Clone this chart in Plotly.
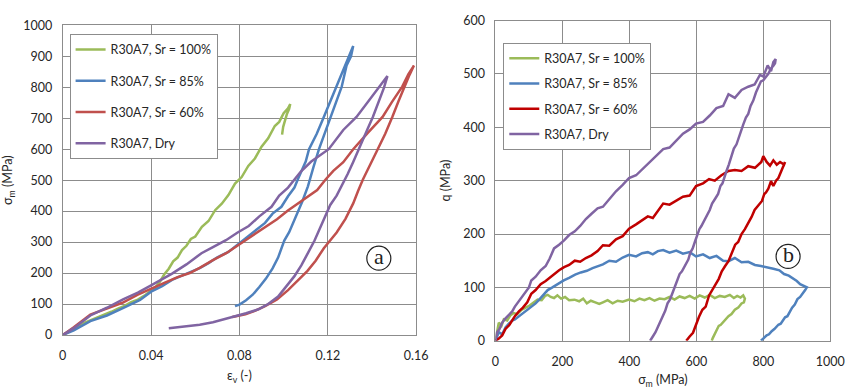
import plotly.graph_objects as go

# ---------------- Panel (a): eps_v vs sigma_m ----------------
names = ["R30A7, Sr = 100%", "R30A7, Sr = 85%", "R30A7, Sr = 60%", "R30A7, Dry"]
colors_a = ["#9BBB59", "#4F81BD", "#C0504D", "#8064A2"]
colors_b = ["#9BBB59", "#4F81BD", "#C00000", "#8064A2"]

a_green_x = [0, 0.002, 0.004, 0.006, 0.008, 0.010, 0.013, 0.016, 0.019, 0.022, 0.025, 0.028, 0.031, 0.034,
             0.037, 0.040, 0.042, 0.044, 0.046, 0.048, 0.050, 0.052, 0.054, 0.056, 0.058, 0.060, 0.063, 0.066,
             0.069, 0.072, 0.075, 0.078, 0.081, 0.084, 0.087, 0.090, 0.093, 0.096, 0.098, 0.100, 0.102, 0.103,
             0.1025, 0.1015, 0.1008, 0.0998, 0.0993]
a_green_y = [0, 8, 17, 24, 33, 40, 49, 57, 67, 75, 85, 94, 106, 114, 127, 142, 155, 172, 196, 214, 238, 250,
             274, 288, 310, 318, 349, 368, 403, 424, 452, 489, 510, 546, 570, 608, 635, 675, 688, 716, 732, 746,
             730, 714, 695, 672, 647]

a_blue_x = [0, 0.005, 0.0125, 0.02, 0.027, 0.035, 0.040, 0.045, 0.050, 0.055, 0.062, 0.066, 0.070, 0.075,
            0.0798, 0.085, 0.0916, 0.095, 0.099, 0.102, 0.1049, 0.1064, 0.108, 0.110, 0.1115, 0.115, 0.1182,
            0.121, 0.1241, 0.126, 0.128, 0.1300, 0.1315,
            0.1305, 0.1285, 0.1263, 0.1237, 0.1211, 0.1185, 0.116, 0.1135, 0.111, 0.1085, 0.1055, 0.1025,
            0.1003, 0.0975, 0.095, 0.092, 0.089, 0.086, 0.083, 0.080, 0.078]
a_blue_y = [0, 15, 45, 63, 86, 113, 140, 158, 180, 194, 216, 232, 251, 268, 295, 326, 362, 392, 414, 448, 476,
            502, 528, 560, 600, 650, 704, 752, 802, 835, 870, 905, 933,
            900, 870, 802, 752, 704, 648, 600, 542, 480, 432, 380, 332, 305, 250, 215, 182, 155, 130, 112, 98, 93]

a_red_x = [0, 0.005, 0.0125, 0.02, 0.027, 0.034, 0.040, 0.046, 0.052, 0.0575, 0.062, 0.068, 0.074, 0.0798,
           0.086, 0.0916, 0.097, 0.1018, 0.1064, 0.111, 0.1152, 0.119, 0.1225, 0.127, 0.1315, 0.138, 0.1448,
           0.149, 0.1537, 0.1565, 0.159,
           0.157, 0.155, 0.152, 0.1492, 0.146, 0.1426, 0.139, 0.1359, 0.1337, 0.1315, 0.128, 0.124, 0.1182,
           0.1145, 0.1108, 0.106, 0.102, 0.097, 0.0916, 0.087, 0.0827, 0.0768]
a_red_y = [0, 25, 66, 86, 104, 130, 150, 168, 187, 200, 217, 242, 264, 292, 320, 348, 374, 401, 425, 446, 468,
           502, 530, 558, 600, 652, 704, 752, 802, 842, 870,
           840, 807, 755, 704, 650, 600, 548, 502, 465, 425, 375, 331, 280, 240, 207, 172, 145, 115, 93, 78, 67, 58]

a_purple_x = [0, 0.005, 0.0125, 0.02, 0.0273, 0.034, 0.0402, 0.045, 0.0495, 0.056, 0.0628, 0.068, 0.0739,
              0.079, 0.0842, 0.089, 0.0945, 0.098, 0.102, 0.1078, 0.1125, 0.1204, 0.127, 0.133, 0.1375,
              0.1418, 0.147,
              0.1454, 0.1425, 0.1404, 0.138, 0.136, 0.1337, 0.1315, 0.129, 0.1265, 0.124, 0.1211, 0.119,
              0.1167, 0.114, 0.1108, 0.108, 0.1049, 0.101, 0.0975, 0.093, 0.0886, 0.083, 0.0768, 0.072,
              0.068, 0.062, 0.058, 0.054, 0.050, 0.048]
a_purple_y = [0, 22, 63, 88, 115, 137, 161, 180, 198, 228, 264, 284, 306, 330, 352, 383, 414, 450, 476, 528,
              560, 600, 662, 704, 746, 787, 836,
              798, 740, 704, 665, 631, 595, 559, 520, 485, 450, 420, 385, 345, 305, 262, 225, 190, 155, 124,
              100, 83, 70, 57, 47, 41, 33, 30, 27, 24, 22]

# ---------------- Panel (b): sigma_m vs q ----------------
b_green_x = [0, 5, 10, 18, 25, 35, 45, 55, 65, 78, 90, 102, 115, 126, 138, 148, 156, 165, 175, 185, 196, 208,
             220, 236, 250, 262, 273, 285, 298, 310, 321, 335, 350, 365, 380, 399, 415, 430, 445, 460, 475, 490,
             505, 520, 535, 550, 565, 580, 595, 610, 625, 640, 655, 670, 685, 700, 712, 722, 732, 740, 745,
             742, 735, 725, 715, 705, 696, 688, 680, 673, 667, 660, 654, 649, 646]
b_green_y = [0, 18, 34, 28, 40, 38, 48, 52, 50, 58, 62, 66, 72, 77, 76, 84, 86, 82, 80, 85, 79, 82, 76, 77, 74,
             79, 70, 75, 72, 69, 72, 76, 70, 75, 73, 77, 74, 79, 76, 80, 75, 79, 78, 82, 77, 83, 80, 84, 79, 85,
             81, 86, 80, 84, 82, 86, 80, 84, 81, 85, 79,
             72, 70, 62, 58, 50, 46, 40, 36, 30, 28, 20, 12, 5, 0]

b_blue_x = [0, 5, 10, 20, 30, 40, 50, 58, 70, 82, 95, 107, 120, 132, 145, 156, 170, 185, 204, 220, 238, 255,
            273, 290, 305, 321, 340, 360, 380, 399, 420, 438, 455, 470, 485, 501, 520, 540, 560, 580, 599, 620,
            640, 660, 680, 696, 715, 735, 755, 775, 793, 812, 830, 848, 862, 876, 890, 900, 910, 920, 930,
            925, 918, 910, 902, 894, 886, 879, 872, 865, 858, 852, 845, 838, 833, 825, 817, 810, 803, 797, 793]
b_blue_y = [0, 10, 16, 12, 25, 32, 38, 40, 46, 52, 58, 64, 70, 78, 88, 95, 100, 106, 113, 118, 124, 128, 131,
            136, 140, 143, 150, 148, 156, 161, 158, 164, 166, 162, 168, 170, 165, 169, 163, 166, 158, 162, 155,
            159, 150, 149, 155, 147, 148, 142, 140, 138, 135, 132, 125, 122, 117, 112, 106, 103, 100,
            95, 88, 82, 78, 68, 62, 55, 46, 44, 38, 32, 30, 24, 22, 18, 12, 10, 6, 3, 0]

b_red_x = [0, 5, 10, 20, 30, 42, 50, 58, 70, 82, 95, 107, 120, 135, 150, 162, 175, 190, 205, 220, 237, 253,
           270, 287, 305, 321, 340, 360, 380, 399, 420, 438, 455, 470, 485, 501, 520, 540, 560, 580, 599, 620,
           638, 655, 675, 696, 715, 735, 755, 775, 794, 800, 810, 820, 830, 840, 850, 862, 865,
           858, 852, 845, 838, 830, 823, 815, 808, 803, 796, 788, 780, 774, 765, 755, 745, 735, 725, 716, 706,
           696, 686, 676, 667, 657, 647, 638, 628, 618, 608, 599, 590, 580, 575, 570]
b_red_y = [0, 2, 4, 10, 22, 30, 38, 46, 55, 62, 72, 88, 95, 106, 112, 118, 125, 132, 138, 142, 150, 148, 155,
           160, 168, 179, 178, 190, 196, 210, 218, 225, 233, 230, 242, 257, 255, 262, 270, 272, 290, 295, 303,
           300, 310, 318, 320, 318, 327, 324, 335, 346, 335, 328, 338, 330, 335, 330, 335,
           325, 317, 305, 300, 290, 299, 285, 278, 275, 262, 255, 250, 245, 232, 220, 209, 200, 185, 180, 165,
           149, 140, 130, 116, 106, 96, 85, 64, 58, 45, 28, 15, 8, 3, 0]

b_purple_x = [0, 5, 12, 20, 30, 40, 50, 58, 70, 80, 90, 100, 107, 120, 135, 150, 162, 175, 190, 205, 220, 237,
              253, 270, 287, 305, 321, 340, 360, 380, 399, 420, 440, 460, 480, 501, 520, 540, 560, 580, 599,
              620, 640, 660, 680, 696, 715, 735, 755, 774, 790, 800, 813, 823, 830, 837,
              835, 830, 823, 815, 808, 800, 793, 785, 778, 770, 762, 755, 748, 740, 735, 728, 720, 712, 705,
              697, 690, 684, 678, 672, 665, 658, 652, 647, 640, 633, 627, 620, 615, 609, 602, 596, 589, 582,
              576, 570, 563, 557, 550, 543, 536, 529, 521, 514, 507, 500, 492, 485, 478, 470, 462]
b_purple_y = [0, 16, 22, 34, 42, 48, 55, 64, 74, 84, 92, 100, 113, 120, 132, 140, 154, 173, 180, 188, 198, 205,
              215, 228, 238, 248, 251, 266, 280, 292, 305, 310, 322, 333, 346, 359, 362, 375, 388, 396, 407,
              410, 422, 436, 440, 462, 455, 470, 476, 480, 498, 495, 516, 505, 522, 528,
              520, 515, 510, 500, 495, 488, 486, 475, 465, 450, 440, 425, 418, 405, 395, 385, 368, 360, 345,
              330, 318, 305, 295, 290, 275, 268, 262, 257, 245, 236, 228, 222, 215, 209, 198, 186, 173, 165,
              152, 145, 138, 130, 125, 112, 100, 90, 77, 70, 56, 46, 34, 25, 16, 8, 0]

a_x_ticks = [0, 0.04, 0.08, 0.12, 0.16]
a_x_labels = ["0", "0.04", "0.08", "0.12", "0.16"]

a_series = [(a_green_x, a_green_y), (a_blue_x, a_blue_y), (a_red_x, a_red_y), (a_purple_x, a_purple_y)]
b_series = [(b_green_x, b_green_y), (b_blue_x, b_blue_y), (b_red_x, b_red_y), (b_purple_x, b_purple_y)]

FONT = "Lato, sans-serif"
TXT = "#262626"
GRID = "#8c8c8c"

fig = go.Figure()
for i, (xs, ys) in enumerate(a_series):
    fig.add_trace(go.Scatter(x=xs, y=ys, mode="lines", name=names[i], xaxis="x", yaxis="y",
                             line=dict(color=colors_a[i], width=2.5), legend="legend",
                             legendgroup="a%d" % i))
for i, (xs, ys) in enumerate(b_series):
    fig.add_trace(go.Scatter(x=xs, y=ys, mode="lines", name=names[i], xaxis="x2", yaxis="y2",
                             line=dict(color=colors_b[i], width=2.5), legend="legend2",
                             legendgroup="b%d" % i))

W, H = 857, 392
axcommon = dict(showgrid=True, gridcolor=GRID, gridwidth=1, showline=True, linecolor=GRID, linewidth=1,
                mirror=True, zeroline=False, ticks="", tickfont=dict(family=FONT, size=12.5, color=TXT),
                title_font=dict(family=FONT, size=12.5, color=TXT))

fig.update_layout(
    width=W, height=H, margin=dict(l=0, r=0, t=0, b=0),
    paper_bgcolor="white", plot_bgcolor="white", showlegend=True,
    xaxis=dict(axcommon, domain=[60 / W, 421 / W], range=[0, 0.16], tickvals=a_x_ticks, ticktext=a_x_labels,
               anchor="y", title=dict(text="ε<sub>v</sub> (-)", standoff=9), ticklabelstandoff=9),
    yaxis=dict(axcommon, domain=[1 - 340 / H, 1 - 18 / H], range=[0, 1000], dtick=100, anchor="x",
               title=dict(text="σ<sub>m</sub> (MPa)", standoff=7), ticklabelstandoff=7),
    xaxis2=dict(axcommon, domain=[502 / W, 844 / W], range=[0, 1000], dtick=200, anchor="y2",
                title=dict(text="σ<sub>m</sub> (MPa)", standoff=7), ticklabelstandoff=9),
    yaxis2=dict(axcommon, domain=[1 - 346 / H, 1 - 13 / H], range=[0, 600], dtick=100, anchor="x2",
                title=dict(text="q (MPa)", standoff=9), ticklabelstandoff=7),
    legend=dict(x=67 / W, y=1 - 27 / H, xanchor="left", yanchor="top", bgcolor="white",
                bordercolor=GRID, borderwidth=1, font=dict(family=FONT, size=12.5, color=TXT),
                tracegroupgap=12, itemwidth=30),
    legend2=dict(x=510 / W, y=1 - 36 / H, xanchor="left", yanchor="top", bgcolor="white",
                 bordercolor=GRID, borderwidth=1, font=dict(family=FONT, size=12.5, color=TXT),
                 tracegroupgap=6, itemwidth=30),
)

# circled panel labels
for xr, yr, cx, cy, lab in [("x", "y", 0.1431, 248, "a"), ("x2", "y2", 874, 158, "b")]:
    fig.add_shape(type="circle", xref=xr, yref=yr, xsizemode="pixel", ysizemode="pixel",
                  xanchor=cx, yanchor=cy, x0=-12, x1=12, y0=-12, y1=12,
                  line=dict(color="#222222", width=1.2), fillcolor="rgba(0,0,0,0)")
    fig.add_annotation(x=cx, y=cy, xref=xr, yref=yr, text=lab, showarrow=False,
                       font=dict(family="Liberation Serif, DejaVu Serif, serif", size=22, color="#222222"),
                       yshift=2)

fig.write_html("out.html")
